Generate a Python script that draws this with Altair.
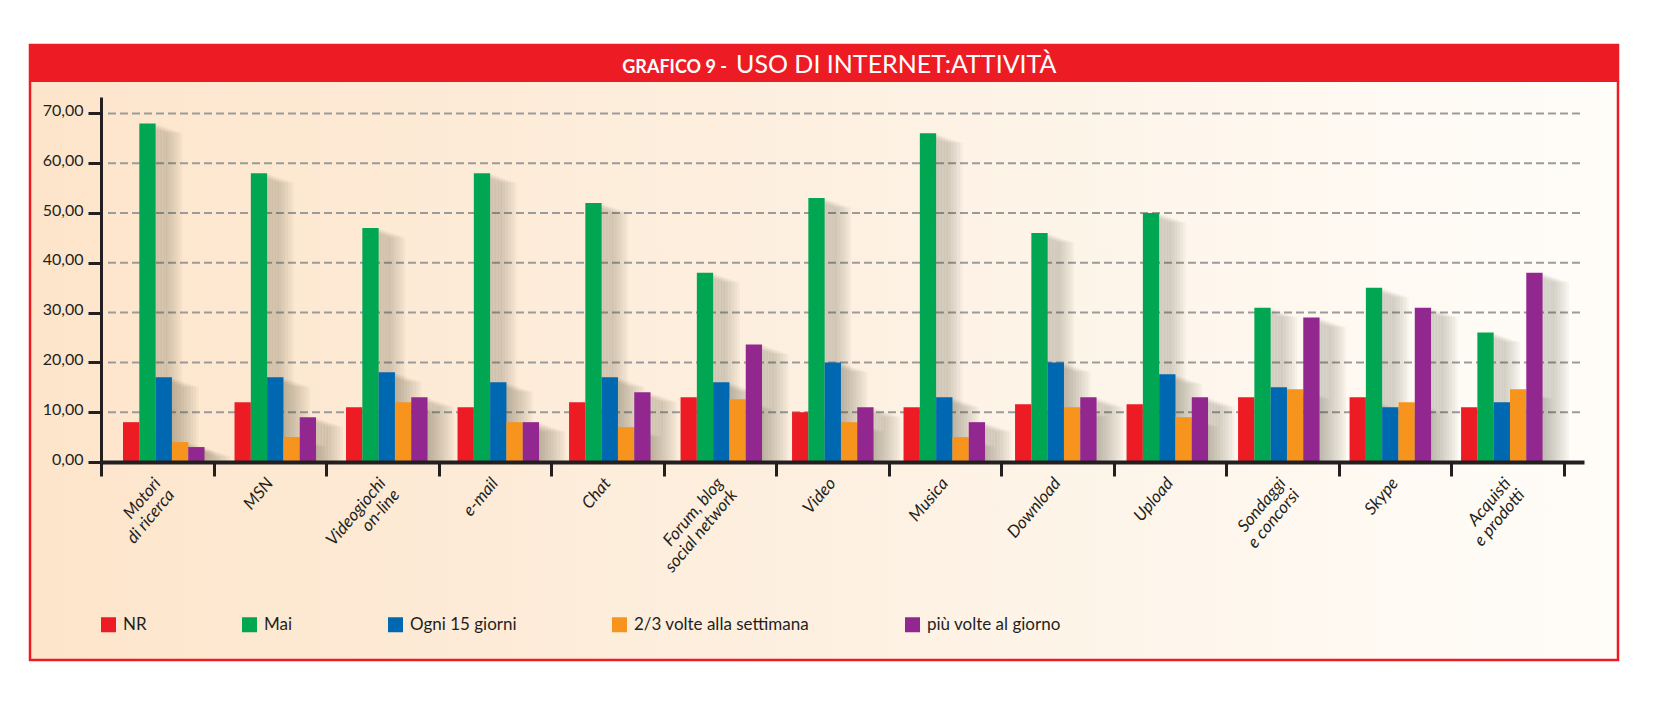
import altair as alt
import pandas as pd

# ---------------- data ----------------
CATEGORIES = ["Motori\ndi ricerca", "MSN", "Videogiochi\non-line", "e-mail", "Chat",
              "Forum, blog\nsocial network", "Video", "Musica", "Download", "Upload",
              "Sondaggi\ne concorsi", "Skype", "Acquisti\ne prodotti"]
SERIES = ["NR", "Mai", "Ogni 15 giorni", "2/3 volte alla settimana", "più volte al giorno"]
COLORS = ["#ed1c24", "#00a651", "#0067b1", "#f7941d", "#92278f"]

NR = [8, 12, 11, 11, 12, 13, 10, 11, 11.6, 11.6, 13, 13, 11]
MAI = [68, 58, 47, 58, 52, 38, 53, 66, 46, 50, 31, 35, 26]
OGNI = [17, 17, 18, 16, 17, 16, 20, 13, 20, 17.6, 15, 11, 12]
DUE_TRE = [4, 5, 12, 8, 7, 12.6, 8, 5, 11, 9, 14.6, 12, 14.6]
PIU = [3, 9, 13, 8, 14, 23.6, 11, 8, 13, 13, 29, 31, 38]

Y_TICKS = [0, 10, 20, 30, 40, 50, 60, 70]
GRID_VALUES = [10, 20, 30, 40, 50, 60, 70]
TITLE_SMALL = "GRAFICO 9 -"
TITLE_BIG = "USO DI INTERNET:ATTIVITÀ"

rows = []
for s, vals in zip(SERIES, [NR, MAI, OGNI, DUE_TRE, PIU]):
    for c, v in zip(CATEGORIES, vals):
        rows.append({"cat": c, "series": s, "value": v})
df = pd.DataFrame(rows)

# ---------------- layout ----------------
W, H = 1483, 365
PAD = {"left": 101, "top": 97, "right": 80, "bottom": 246}
FONT = "Lato"
INK = "#231f20"
RED = "#ed1c24"

yscale = alt.Scale(domain=[0, 73.3], nice=False, zero=True)
yaxis = alt.Axis(values=Y_TICKS, grid=False, title=None,
                 labelExpr="replace(format(datum.value, '.2f'), '.', ',')",
                 domainColor=INK, domainWidth=3, tickColor=INK, tickWidth=3, tickSize=13,
                 labelFont=FONT, labelFontSize=16, labelColor=INK, labelPadding=5,
                 labelBaseline="alphabetic", labelOffset=2, zindex=1)

one = pd.DataFrame({"k": [0]})

bg = alt.Chart(one).mark_rect(
    fill={"gradient": "linear", "x1": 0, "y1": 0, "x2": 1, "y2": 0,
          "stops": [{"offset": 0, "color": "#fde5cb"},
                    {"offset": 0.5, "color": "#fdf0e1"},
                    {"offset": 1, "color": "#fffdf9"}]},
    stroke=RED, strokeWidth=2.5
).encode(x=alt.value(-71), x2=alt.value(1517), y=alt.value(-52), y2=alt.value(563))

titlebar = alt.Chart(one).mark_rect(fill=RED).encode(
    x=alt.value(-71), x2=alt.value(1517), y=alt.value(-52), y2=alt.value(-15))

title_small = alt.Chart(pd.DataFrame({"t": [TITLE_SMALL]})).mark_text(
    font=FONT, fontSize=18, fontWeight="bold", color="white", align="right", baseline="alphabetic"
).encode(x=alt.value(626), y=alt.value(-24), text="t:N")

title_big = alt.Chart(pd.DataFrame({"t": [TITLE_BIG]})).mark_text(
    font=FONT, fontSize=25, color="white", align="left", baseline="alphabetic"
).encode(x=alt.value(635), y=alt.value(-24), text="t:N")

grid = alt.Chart(pd.DataFrame({"v": GRID_VALUES})).mark_rule(
    color="#9b9b9b", strokeWidth=2, strokeDash=[8, 4]
).encode(y=alt.Y("v:Q", scale=yscale, axis=yaxis), x=alt.value(7), x2=alt.value(W))

def xscale(align):
    return alt.Scale(domain=CATEGORIES, paddingInner=0, paddingOuter=0.15, align=align)

xoff = alt.XOffset("series:N", scale=alt.Scale(domain=SERIES, paddingInner=0, paddingOuter=0.92))

# soft drop shadow: stacked translucent copies shifted right/down
shadows = []
for d in [3, 6, 9, 12, 15, 18, 21, 24, 27]:
    a = (7 + d) / 33.5
    shadows.append(
        alt.Chart(df).mark_bar(color="#4a3b2c", opacity=0.045, yOffset=d * 0.35, clip=True).encode(
            x=alt.X("cat:N", scale=xscale(a), axis=None),
            xOffset=xoff,
            y=alt.Y("value:Q", scale=yscale, axis=yaxis),
        )
    )

bars = alt.Chart(df).mark_bar().encode(
    x=alt.X("cat:N", scale=xscale(0.21), axis=None),
    xOffset=xoff,
    y=alt.Y("value:Q", scale=yscale, axis=yaxis),
    color=alt.Color("series:N", scale=alt.Scale(domain=SERIES, range=COLORS),
                    legend=alt.Legend(orient="none", legendX=-1, legendY=519,
                                      direction="horizontal", title=None,
                                      symbolType="square", symbolSize=225,
                                      symbolStrokeWidth=0, labelFont=FONT,
                                      labelFontSize=17, labelColor=INK, labelOffset=6,
                                      labelLimit=400, columnPadding=94, gridAlign="each",
                                      padding=0)),
)

axis_holder = alt.Chart(pd.DataFrame({"cat": CATEGORIES})).mark_point(opacity=0).encode(
    x=alt.X("cat:N",
            scale=alt.Scale(domain=CATEGORIES, paddingInner=0, paddingOuter=0.0911, align=0),
            axis=alt.Axis(orient="bottom", title=None, tickBand="extent",
                          labelExpr="split(datum.label, '\\n')",
                          domainColor=INK, domainWidth=4, tickColor=INK, tickWidth=3,
                          tickSize=14, labelAngle=-50, labelAlign="right",
                          labelBaseline="middle", labelFont=FONT, labelFontStyle="italic",
                          labelFontSize=17, labelLineHeight=18, labelColor=INK,
                          labelPadding=4, zindex=1)),
)

chart = alt.layer(bg, titlebar, title_small, title_big, grid, *shadows, bars, axis_holder).resolve_scale(
    x="independent"
).properties(
    width=W, height=H,
    autosize=alt.AutoSizeParams(type="none"),
    padding=PAD,
    background="white",
).configure_view(stroke=None)

chart.save("out.html", embed_options={"renderer": "svg", "actions": False})
